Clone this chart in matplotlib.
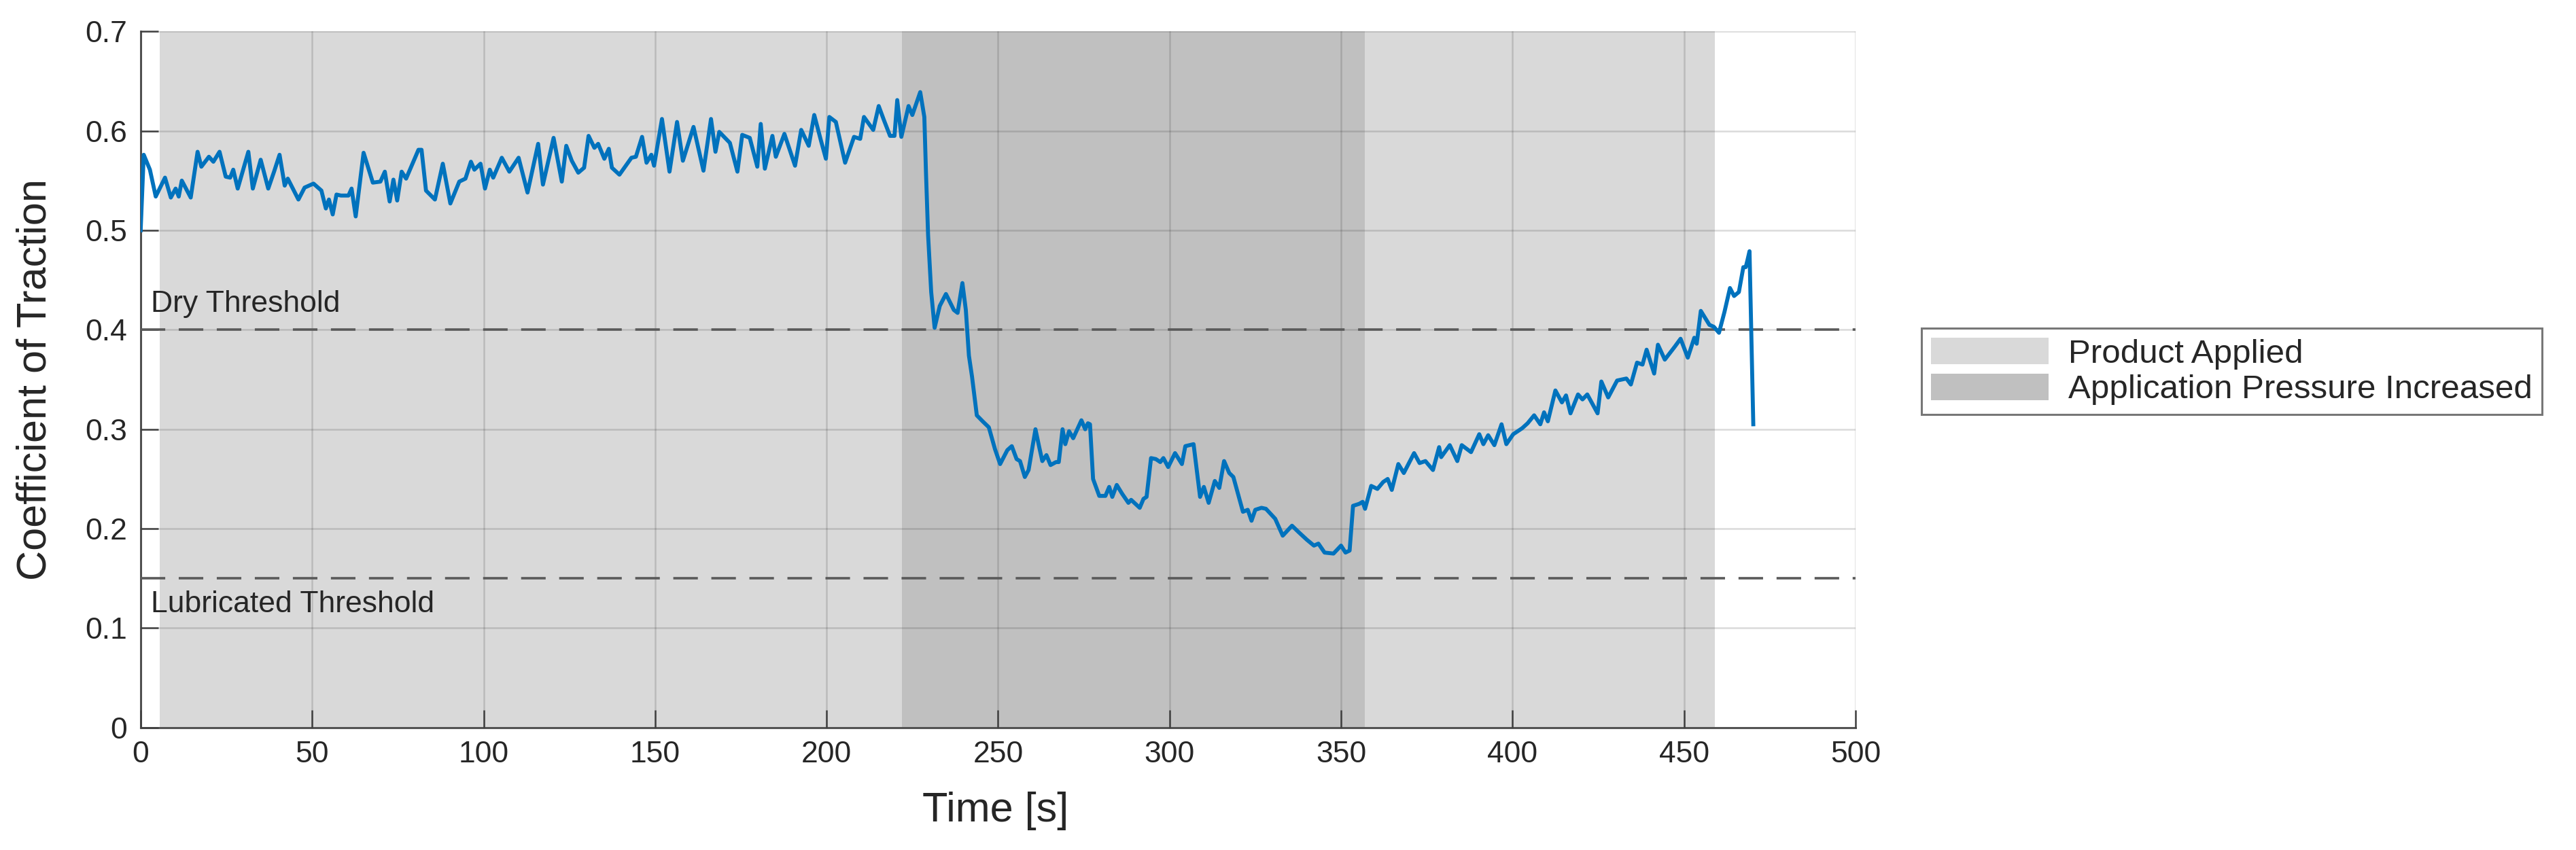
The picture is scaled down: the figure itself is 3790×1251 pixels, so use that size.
import numpy as np
import matplotlib.pyplot as plt
from matplotlib.patches import Patch
from matplotlib.ticker import FuncFormatter

plt.rcParams['font.family'] = ['Liberation Sans', 'DejaVu Sans']

# Coefficient of traction
time_s = [
    0.0, 0.9, 2.7, 4.4, 7.1, 8.8, 10.2, 11.1, 12.0, 14.6, 16.6, 17.7, 19.9, 21.2,
    23.0, 24.8, 26.1, 27.0, 28.3, 31.4, 32.7, 35.0, 37.2, 38.9, 40.5, 42.0, 42.9,
    46.0, 47.8, 50.4, 52.7, 54.0, 54.9, 56.0, 57.1, 58.4, 60.6, 61.5, 62.7, 65.0,
    67.7, 69.9, 71.2, 72.6, 73.7, 74.8, 76.1, 77.4, 81.0, 81.9, 83.2, 85.8, 88.1,
    90.3, 92.9, 94.7, 96.3, 97.3, 99.1, 100.4, 101.8, 102.8, 105.3, 107.5, 110.2,
    112.8, 115.9, 117.3, 120.4, 122.8, 124.1, 125.7, 127.6, 129.3, 130.6, 132.3,
    133.4, 135.2, 136.5, 137.4, 139.6, 143.1, 144.4, 146.2, 147.5, 148.9, 149.7,
    152.0, 154.2, 156.4, 158.1, 161.2, 164.1, 166.3, 167.6, 168.7, 171.8, 174.0,
    175.4, 177.6, 179.8, 180.8, 182.0, 184.2, 185.2, 187.7, 190.8, 192.6, 194.8,
    196.4, 198.3, 199.8, 200.8, 202.7, 205.4, 208.0, 209.8, 210.9, 213.6, 215.2,
    216.7, 218.5, 219.8, 220.6, 221.8, 223.9, 225.0, 227.3, 228.5, 229.0, 229.6,
    230.5, 231.5, 233.0, 234.8, 237.1, 238.2, 239.6, 240.6, 241.5, 242.4, 243.8,
    245.5, 247.3, 249.1, 250.6, 252.7, 254.0, 255.4, 256.4, 257.8, 258.9, 260.9,
    262.0, 262.9, 264.1, 265.3, 266.9, 267.7, 268.8, 269.6, 270.7, 271.9, 274.3,
    275.4, 276.2, 276.8, 277.7, 279.5, 281.3, 282.4, 283.3, 284.6, 286.2, 288.0,
    288.8, 291.3, 292.4, 293.3, 294.6, 296.0, 297.3, 298.2, 299.6, 301.6, 303.6,
    304.6, 307.0, 308.9, 310.0, 311.4, 313.2, 314.5, 315.9, 317.4, 318.6, 321.4,
    322.8, 323.9, 325.0, 326.8, 328.1, 330.8, 333.0, 335.7, 337.5, 340.0, 342.1,
    343.4, 345.2, 347.8, 350.0, 351.3, 352.5, 353.5, 355.3, 356.3, 357.0, 358.8,
    360.6, 362.3, 363.6, 364.8, 366.7, 368.3, 371.3, 372.9, 374.6, 376.8, 378.6,
    379.2, 381.7, 383.9, 385.2, 387.9, 390.3, 391.5, 392.9, 394.7, 396.8, 398.2,
    400.2, 402.8, 404.4, 406.3, 408.1, 409.2, 410.3, 412.5, 414.4, 415.6, 416.9,
    419.1, 420.4, 421.8, 424.8, 425.9, 427.9, 430.5, 433.2, 434.5, 436.3, 437.9,
    439.1, 441.3, 442.4, 444.4, 447.3, 449.0, 451.1, 453.0, 453.7, 454.9, 457.4,
    458.7, 460.2, 461.8, 463.4, 464.6, 466.0, 467.3, 468.0, 468.5, 469.1, 470.2,
]
traction = [
    0.500, 0.576, 0.561, 0.534, 0.553, 0.533, 0.542, 0.534, 0.550, 0.533, 0.579, 0.564, 0.574, 0.569,
    0.579, 0.554, 0.553, 0.561, 0.542, 0.579, 0.542, 0.571, 0.542, 0.559, 0.576, 0.545, 0.552,
    0.531, 0.543, 0.547, 0.540, 0.522, 0.531, 0.516, 0.536, 0.535, 0.535, 0.542, 0.514, 0.578,
    0.548, 0.549, 0.559, 0.529, 0.551, 0.530, 0.559, 0.552, 0.581, 0.581, 0.540, 0.531, 0.567,
    0.527, 0.549, 0.552, 0.569, 0.561, 0.567, 0.542, 0.561, 0.553, 0.573, 0.559, 0.573,
    0.538, 0.587, 0.546, 0.593, 0.549, 0.585, 0.570, 0.558, 0.563, 0.595, 0.583,
    0.587, 0.572, 0.582, 0.563, 0.556, 0.573, 0.574, 0.594, 0.568, 0.576, 0.565,
    0.612, 0.559, 0.609, 0.570, 0.604, 0.560, 0.612, 0.579, 0.599, 0.588, 0.559,
    0.596, 0.593, 0.564, 0.607, 0.562, 0.595, 0.574, 0.597, 0.565, 0.601, 0.585,
    0.616, 0.591, 0.572, 0.614, 0.609, 0.568, 0.594, 0.592, 0.614, 0.601, 0.625,
    0.611, 0.595, 0.595, 0.631, 0.594, 0.625, 0.616, 0.639, 0.614, 0.556, 0.495,
    0.438, 0.402, 0.424, 0.436, 0.420, 0.417, 0.447, 0.420, 0.374, 0.353, 0.314,
    0.308, 0.302, 0.280, 0.265, 0.279, 0.283, 0.270, 0.268, 0.252, 0.259, 0.300,
    0.282, 0.268, 0.274, 0.264, 0.267, 0.267, 0.300, 0.285, 0.298, 0.291, 0.309,
    0.300, 0.306, 0.305, 0.250, 0.233, 0.233, 0.242, 0.232, 0.244, 0.235, 0.226,
    0.229, 0.221, 0.230, 0.232, 0.271, 0.270, 0.267, 0.271, 0.262, 0.276, 0.265,
    0.283, 0.285, 0.232, 0.242, 0.226, 0.248, 0.241, 0.268, 0.256, 0.252, 0.217,
    0.219, 0.208, 0.219, 0.221, 0.220, 0.210, 0.193, 0.203, 0.197, 0.189, 0.183,
    0.185, 0.176, 0.175, 0.183, 0.176, 0.178, 0.223, 0.225, 0.227, 0.220, 0.243,
    0.240, 0.247, 0.250, 0.239, 0.265, 0.256, 0.276, 0.266, 0.268, 0.259, 0.282,
    0.272, 0.284, 0.268, 0.284, 0.277, 0.295, 0.285, 0.294, 0.284, 0.305, 0.285,
    0.295, 0.301, 0.306, 0.314, 0.305, 0.317, 0.308, 0.339, 0.327, 0.334, 0.316,
    0.335, 0.330, 0.335, 0.316, 0.348, 0.332, 0.349, 0.351, 0.345, 0.367, 0.365,
    0.380, 0.356, 0.385, 0.370, 0.383, 0.391, 0.372, 0.392, 0.386, 0.419, 0.405,
    0.403, 0.397, 0.418, 0.442, 0.434, 0.438, 0.463, 0.463, 0.470, 0.479, 0.305,
]

# shaded phases (start, end) in seconds
product_applied = (5.5, 459.0)
pressure_increased = (222.0, 357.0)

dry_threshold = 0.40
lub_threshold = 0.15

x_ticks = np.arange(0, 501, 50)
y_ticks = np.arange(0, 0.71, 0.1)

txt = '#262626'

def main():
    fig = plt.figure(figsize=(37.9, 12.51), dpi=100)
    ax = fig.add_axes([0.0546, 0.144, 0.6657, 0.819])

    ax.axvspan(*product_applied, color='#d9d9d9', lw=0, zorder=1)
    ax.axvspan(*pressure_increased, color='#c0c0c0', lw=0, zorder=1.1)

    ax.axhline(dry_threshold, color='#5a5a5a', lw=2.6, dashes=(10, 5.5), zorder=3)
    ax.axhline(lub_threshold, color='#5a5a5a', lw=2.6, dashes=(10, 5.5), zorder=3)

    ax.plot(time_s, traction, color='#0072BD', lw=4.2, zorder=4)

    ax.text(3, 0.426, 'Dry Threshold', fontsize=32, color=txt, va='center', ha='left', zorder=5)
    ax.text(3, 0.124, 'Lubricated Threshold', fontsize=32, color=txt, va='center', ha='left', zorder=5)

    ax.set_xlim(0, 500)
    ax.set_ylim(0, 0.7)
    ax.set_xticks(x_ticks)
    ax.set_yticks(y_ticks)
    ax.yaxis.set_major_formatter(FuncFormatter(lambda v, p: '0' if abs(v) < 1e-9 else f'{v:.1f}'))

    ax.set_axisbelow(False)
    ax.grid(True, color='#262626', alpha=0.17, lw=1.8, zorder=2.5)

    for s in ['top', 'right']:
        ax.spines[s].set_visible(False)
    for s in ['left', 'bottom']:
        ax.spines[s].set_color('#555555')
        ax.spines[s].set_linewidth(2.2)
    ax.tick_params(direction='in', length=19, width=1.8, color='#404040',
                   labelsize=32, labelcolor=txt, pad=14)

    ax.set_xlabel('Time [s]', fontsize=44, color=txt)
    ax.set_ylabel('Coefficient of Traction', fontsize=44, color=txt)
    ax.xaxis.set_label_coords(0.4986, -0.092)
    ax.yaxis.set_label_coords(-0.050, 0.5)

    handles = [Patch(facecolor='#d9d9d9', edgecolor='none', label='Product Applied'),
               Patch(facecolor='#c0c0c0', edgecolor='none', label='Application Pressure Increased')]
    leg = fig.legend(handles=handles, loc='center left', bbox_to_anchor=(0.746, 0.563),
                     fontsize=35.5, frameon=True, fancybox=False, handlelength=3.5,
                     handleheight=0.85, handletextpad=0.6, labelspacing=0.12,
                     borderpad=0.28, borderaxespad=0)
    leg.get_frame().set_edgecolor('#555555')
    leg.get_frame().set_linewidth(2.2)
    for t in leg.get_texts():
        t.set_color(txt)

    fig.savefig('out.png', dpi=100)

if __name__ == "__main__":
    main()
